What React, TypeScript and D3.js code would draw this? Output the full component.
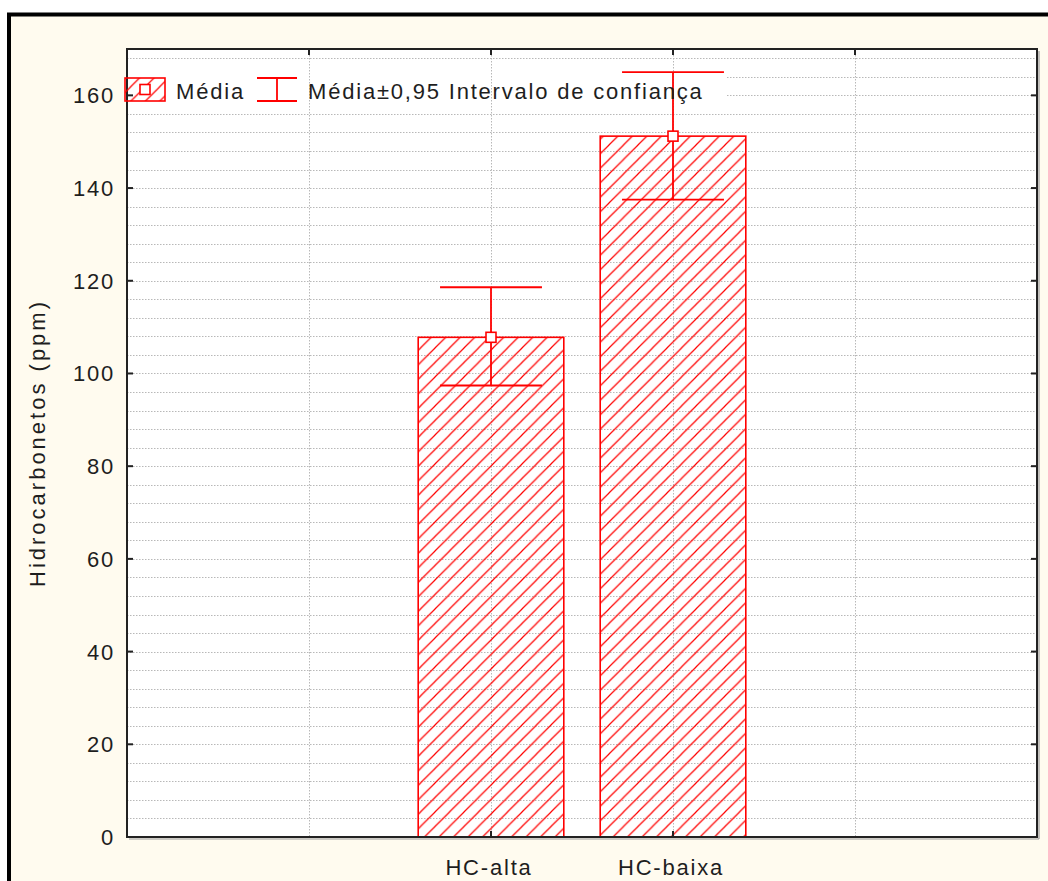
import * as d3 from "d3";

// data
const categories = ["HC-alta", "HC-baixa"];
const means = [107.8, 151.2];
const ciLow = [97.4, 137.5];
const ciHigh = [118.6, 165.0];
const yTicks = [0, 20, 40, 60, 80, 100, 120, 140, 160];
const yLabel = "Hidrocarbonetos (ppm)";
const legendMean = "Média";
const legendCI = "Média±0,95 Intervalo de confiança";

const W = 1048;
const H = 881;
const margin = { left: 127, right: 11, top: 49, bottom: 44 };
const font = "'Liberation Sans', Arial, sans-serif";
const red = "#ff0000";
const ink = "#1e1e1e";

export default function App() {
  const x0 = margin.left;
  const x1 = W - margin.right;
  const y0 = H - margin.bottom;
  const y1 = margin.top;

  // statistica leaves an empty slot on each side of the categories
  const slots = ["_a", ...categories, "_b"];
  const x = d3.scalePoint<string>().domain(slots).range([x0, x1]).padding(1);
  const step = x.step();
  const barW = step * 0.8;
  const capW = step * 0.56;

  const y = d3.scaleLinear().domain([0, 170]).range([y0, y1]);
  const minor = d3.range(0, 170, 4);

  const txt = {
    fontFamily: font,
    fontSize: 22,
    letterSpacing: 1.8,
    fill: ink,
  } as const;

  return (
    <svg
      width={W}
      height={H}
      style={{ position: "absolute", left: 0, top: 0 }}
    >
      <defs>
        <pattern
          id="hatch"
          patternUnits="userSpaceOnUse"
          width={14.5}
          height={14.5}
        >
          <path
            d="M0,14.5 L14.5,0 M-4,4 L4,-4 M10.5,18.5 L18.5,10.5"
            stroke={red}
            strokeWidth={1.2}
          />
        </pattern>
        <clipPath id="plot">
          <rect x={x0} y={y1} width={x1 - x0} height={y0 - y1} />
        </clipPath>
      </defs>

      <rect x={0} y={0} width={W} height={H} fill="#ffffff" />
      {/* outer frame */}
      <rect x={9} y={14.5} width={W + 20} height={H + 20} fill="#fffbef" stroke="#000" strokeWidth={4} />

      {/* plot area */}
      <rect x={x0} y={y1} width={x1 - x0} height={y0 - y1} fill="#ffffff" />

      <g clipPath="url(#plot)">
        {minor.map((v) => (
          <line
            key={v}
            x1={x0}
            x2={x1}
            y1={Math.round(y(v)) + 0.5}
            y2={Math.round(y(v)) + 0.5}
            stroke="#b8b8b8"
            strokeDasharray="1.5,1.5"
          />
        ))}
      </g>

      {/* legend background hides the top grid lines */}
      <rect x={x0} y={68} width={600} height={37} fill="#ffffff" />

      {slots.map((s) => (
        <line
          key={s}
          x1={Math.round(x(s)!) + 0.5}
          x2={Math.round(x(s)!) + 0.5}
          y1={y1}
          y2={y0}
          stroke="#b8b8b8"
          strokeDasharray="1.5,1.5"
        />
      ))}

      {/* bars */}
      {categories.map((c, i) => (
        <rect
          key={c}
          x={x(c)! - barW / 2}
          y={y(means[i])}
          width={barW}
          height={y(0) - y(means[i])}
          fill="url(#hatch)"
          stroke={red}
          strokeWidth={1.6}
        />
      ))}

      {/* confidence intervals */}
      {categories.map((c, i) => {
        const cx = x(c)!;
        return (
          <g key={c} stroke={red} strokeWidth={1.8}>
            <line x1={cx} x2={cx} y1={y(ciHigh[i])} y2={y(ciLow[i])} />
            <line x1={cx - capW / 2} x2={cx + capW / 2} y1={y(ciHigh[i])} y2={y(ciHigh[i])} />
            <line x1={cx - capW / 2} x2={cx + capW / 2} y1={y(ciLow[i])} y2={y(ciLow[i])} />
            <rect x={cx - 5} y={y(means[i]) - 5} width={10} height={10} fill="#fff" strokeWidth={1.6} />
          </g>
        );
      })}

      {/* frame + ticks */}
      <line x1={x0 + 2} x2={x1 + 2} y1={y0 + 2} y2={y0 + 2} stroke="#9a9a9a" strokeWidth={1.2} />
      <line x1={x1 + 2} x2={x1 + 2} y1={y1 + 2} y2={y0 + 2} stroke="#9a9a9a" strokeWidth={1.2} />
      <rect x={x0} y={y1} width={x1 - x0} height={y0 - y1} fill="none" stroke="#222" strokeWidth={2} />
      {yTicks.map((v) => (
        <g key={v} stroke="#222" strokeWidth={2}>
          <line x1={x0} x2={x0 + 6} y1={y(v)} y2={y(v)} />
          <line x1={x1 - 6} x2={x1} y1={y(v)} y2={y(v)} />
        </g>
      ))}
      {slots.slice(1, -1).map((s) => (
        <g key={s} stroke="#222" strokeWidth={2}>
          <line x1={x(s)!} x2={x(s)!} y1={y1} y2={y1 + 6} />
          <line x1={x(s)!} x2={x(s)!} y1={y0 - 6} y2={y0} />
        </g>
      ))}
      {[slots[0], slots[3]].map((s) => (
        <line key={s} x1={x(s)!} x2={x(s)!} y1={y1} y2={y1 + 6} stroke="#222" strokeWidth={2} />
      ))}

      {/* tick labels */}
      {yTicks.map((v) => (
        <text key={v} x={x0 - 12} y={y(v) + 8} textAnchor="end" {...txt}>
          {v}
        </text>
      ))}
      {categories.map((c) => (
        <text key={c} x={x(c)! - 2} y={y0 + 38} textAnchor="middle" {...txt}>
          {c}
        </text>
      ))}
      <text
        transform={`translate(45, ${(y1 + y0) / 2}) rotate(-90)`}
        textAnchor="middle"
        {...txt}
        letterSpacing={3}
      >
        {yLabel}
      </text>

      {/* legend */}
      <rect x={125} y={78} width={40} height={23} fill="url(#hatch)" stroke={red} strokeWidth={1.6} />
      <rect x={140} y={84.5} width={10} height={10} fill="#fff" stroke={red} strokeWidth={1.6} />
      <text x={176} y={99} {...txt}>
        {legendMean}
      </text>
      <g stroke={red} strokeWidth={1.8}>
        <line x1={257} x2={297} y1={78} y2={78} />
        <line x1={257} x2={297} y1={101} y2={101} />
        <line x1={277} x2={277} y1={78} y2={101} />
      </g>
      <text x={308} y={99} {...txt}>
        {legendCI}
      </text>
    </svg>
  );
}
